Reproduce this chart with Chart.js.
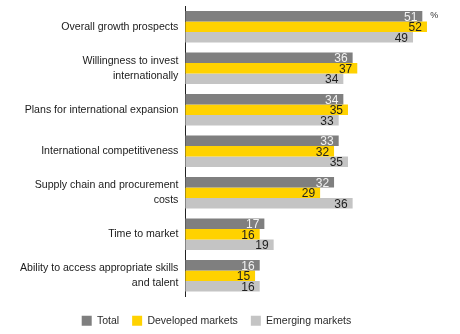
<!DOCTYPE html>
<html>
<head>
<meta charset="utf-8">
<script src="https://cdn.jsdelivr.net/npm/chart.js@4.4.0/dist/chart.umd.min.js"></script>
<style>
  html, body { margin: 0; padding: 0; background: #fff; }
  #wrap { width: 460px; height: 334px; }
</style>
</head>
<body>
<div id="wrap"><canvas id="myChart"></canvas></div>
<script>
var categories = [
    'Overall growth prospects',
    ['Willingness to invest', 'internationally'],
    'Plans for international expansion',
    'International competitiveness',
    ['Supply chain and procurement', 'costs'],
    'Time to market',
    ['Ability to access appropriate skills', 'and talent']
];
var seriesNames = ['Total', 'Developed markets', 'Emerging markets'];
var total = [51, 36, 34, 33, 32, 17, 16];
var developed = [52, 37, 35, 32, 29, 16, 15];
var emerging = [49, 34, 33, 35, 36, 19, 16];

var barColors = ['#7f7f7f', '#ffd200', '#c4c4c4'];
var labelColors = ['#f2f2f2', '#1e1e1e', '#1e1e1e'];
var fontFam = "'Liberation Sans', Arial, sans-serif";

// value labels at the end of each bar + the % sign
var valueLabels = {
    id: 'valueLabels',
    afterDatasetsDraw: function (chart) {
        var ctx = chart.ctx;
        ctx.save();
        ctx.font = '12px ' + fontFam;
        ctx.textAlign = 'right';
        ctx.textBaseline = 'middle';
        chart.data.datasets.forEach(function (ds, i) {
            var meta = chart.getDatasetMeta(i);
            meta.data.forEach(function (bar, j) {
                ctx.fillStyle = labelColors[i];
                ctx.fillText(ds.data[j], bar.x - 5, bar.y + 1);
            });
        });
        var first = chart.getDatasetMeta(0).data[0];
        ctx.font = '9px ' + fontFam;
        ctx.textAlign = 'left';
        ctx.fillStyle = '#333';
        ctx.fillText('%', chart.scales.x.getPixelForValue(52.7), first.y - 1);
        ctx.restore();
    }
};

var data = {
    labels: categories,
    datasets: [
        { label: seriesNames[0], data: total, backgroundColor: barColors[0] },
        { label: seriesNames[1], data: developed, backgroundColor: barColors[1] },
        { label: seriesNames[2], data: emerging, backgroundColor: barColors[2] }
    ]
};

var config = {
    type: 'bar',
    data: data,
    plugins: [valueLabels],
    options: {
        indexAxis: 'y',
        responsive: true,
        maintainAspectRatio: false,
        animation: false,
        datasets: {
            // bars may run past the right edge of the plot area (legend centring)
            bar: { categoryPercentage: 0.76, barPercentage: 1.0, clip: false }
        },
        layout: { padding: { left: 13, right: 40, top: 6, bottom: -2 } },
        plugins: {
            legend: {
                position: 'bottom',
                labels: {
                    boxWidth: 10,
                    boxHeight: 10,
                    padding: 13,
                    color: '#2a2a2a',
                    font: { size: 10.5, family: fontFam }
                }
            },
            tooltip: { enabled: false }
        },
        scales: {
            x: {
                display: true,
                min: 0,
                max: 50.5,
                grid: { display: false, drawTicks: false },
                border: { display: false },
                ticks: { display: false },
                afterFit: function (scale) { scale.height = 6; }
            },
            y: {
                grid: { display: false, drawTicks: false },
                border: { display: true, color: '#222', width: 1 },
                ticks: {
                    padding: 7,
                    color: '#1a1a1a',
                    font: { size: 10.6, family: fontFam, lineHeight: 1.42 }
                },
                afterFit: function (scale) {
                    scale.paddingTop = 0;
                    scale.paddingBottom = 0;
                }
            }
        }
    }
};

var myChart = new Chart(document.getElementById('myChart'), config);
</script>
</body>
</html>
